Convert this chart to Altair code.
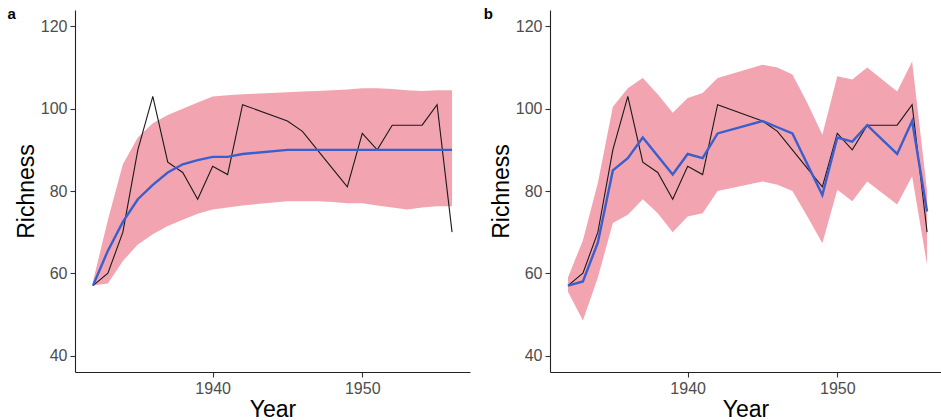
import altair as alt
import pandas as pd

# Survey years and observed species richness
years = [1932, 1933, 1934, 1935, 1936, 1937, 1938, 1939, 1940, 1941, 1942,
         1945, 1946, 1947, 1948, 1949, 1950, 1951, 1952, 1953, 1954, 1955, 1956]
observed = [57, 60, 70, 90, 103, 87, 84.5, 78, 86, 84, 101,
            97, 94.5, 90, 85.5, 81, 94, 90, 96, 96, 96, 101, 70]

# Model a: saturating fit with its uncertainty band
fit_a = [57, 65.5, 72.5, 78, 81.5, 84.5, 86.5, 87.5, 88.3, 88.3, 89,
         90, 90, 90, 90, 90, 90, 90, 90, 90, 90, 90, 90]
low_a = [57, 57.5, 63, 67, 69.5, 71.5, 73, 74.5, 75.5, 76, 76.5,
         77.5, 77.5, 77.5, 77.3, 77, 77, 76.5, 76, 75.5, 76, 76.3, 76.3]
high_a = [58, 73, 86.5, 93, 96.5, 98.5, 100, 101.5, 103, 103.3, 103.5,
          104, 104.2, 104.3, 104.5, 104.7, 105, 105, 104.8, 104.5, 104.3, 104.5, 104.5]

# Model b: year-by-year fit with its uncertainty band
fit_b = [57, 58, 67.5, 85, 88, 93, 88.5, 84, 89, 88, 94,
         97, 95.5, 94, 86.5, 79, 93, 92, 96, 92.5, 89, 97, 75]
low_b = [55.5, 48.5, 59, 72.2, 74.2, 78, 74.6, 70, 73.8, 74.6, 80,
         82.3, 81.5, 80, 73.8, 67.3, 80.3, 77.5, 82.3, 79.5, 76.7, 83.6, 62]
high_b = [59, 68, 82, 100.5, 105, 107.5, 103.5, 99, 102.6, 103.8, 107.5,
          110.7, 110, 108.3, 101.4, 93.7, 107.9, 107.1, 110, 107.1, 104.2, 111.5, 80]

x_ticks = [1940, 1950]
y_ticks = [40, 60, 80, 100, 120]

df = pd.DataFrame({
    "year": years, "observed": observed,
    "fit_a": fit_a, "low_a": low_a, "high_a": high_a,
    "fit_b": fit_b, "low_b": low_b, "high_b": high_b,
})

FONT = "Liberation Sans"
PINK = "#F2A5B1"
BLUE = "#3A5FCD"
INK = "#1a1a1a"
PLOT_H = 362


def panel(fit, low, high, letter, width, x_max, tag_x):
    x = alt.X("year:Q",
              scale=alt.Scale(domain=[1930.8, x_max], nice=False, zero=False),
              axis=alt.Axis(values=x_ticks, format="d", title="Year"))
    y_scale = alt.Scale(domain=[36, 124], nice=False, zero=False)
    y_axis = alt.Axis(values=y_ticks, title="Richness")

    band = alt.Chart(df).mark_area(color=PINK, opacity=1).encode(
        x=x,
        y=alt.Y(f"{low}:Q", scale=y_scale, axis=y_axis),
        y2=f"{high}:Q",
    )
    obs = alt.Chart(df).mark_line(color=INK, strokeWidth=1.1).encode(
        x=x, y=alt.Y("observed:Q", scale=y_scale, axis=y_axis)
    )
    model = alt.Chart(df).mark_line(color=BLUE, strokeWidth=2.4).encode(
        x=x, y=alt.Y(f"{fit}:Q", scale=y_scale, axis=y_axis)
    )
    tag = alt.Chart(pd.DataFrame({"tag": [letter]})).mark_text(
        align="left", baseline="alphabetic", fontSize=15, fontWeight="bold",
        font=FONT, color="black"
    ).encode(text="tag:N", x=alt.value(tag_x), y=alt.value(8.5))

    return alt.layer(band, obs, model, tag).properties(width=width, height=PLOT_H)


panel_a = panel("fit_a", "low_a", "high_a", "a", 395, 1957.2, -67.5)
panel_b = panel("fit_b", "low_b", "high_b", "b", 391, 1956.93, -66.3)

chart = (
    alt.hconcat(panel_a, panel_b, spacing=13)
    .properties(padding={"left": 7, "top": 6, "right": 0, "bottom": 0},
                background="white")
    .configure_view(stroke=None)
    .configure_axis(
        grid=False,
        domainColor="#222222", domainWidth=1.1,
        tickColor="#333333", tickSize=5, tickWidth=1.1,
        labelFont=FONT, labelFontSize=16, labelColor="#4d4d4d", labelPadding=3,
        titleFont=FONT, titleFontSize=23, titleFontWeight="normal", titleColor="black",
    )
    .configure_axisY(titlePadding=2)
    .configure_axisX(titlePadding=2)
)

chart.save("out.html", embed_options={"renderer": "svg", "actions": False})
